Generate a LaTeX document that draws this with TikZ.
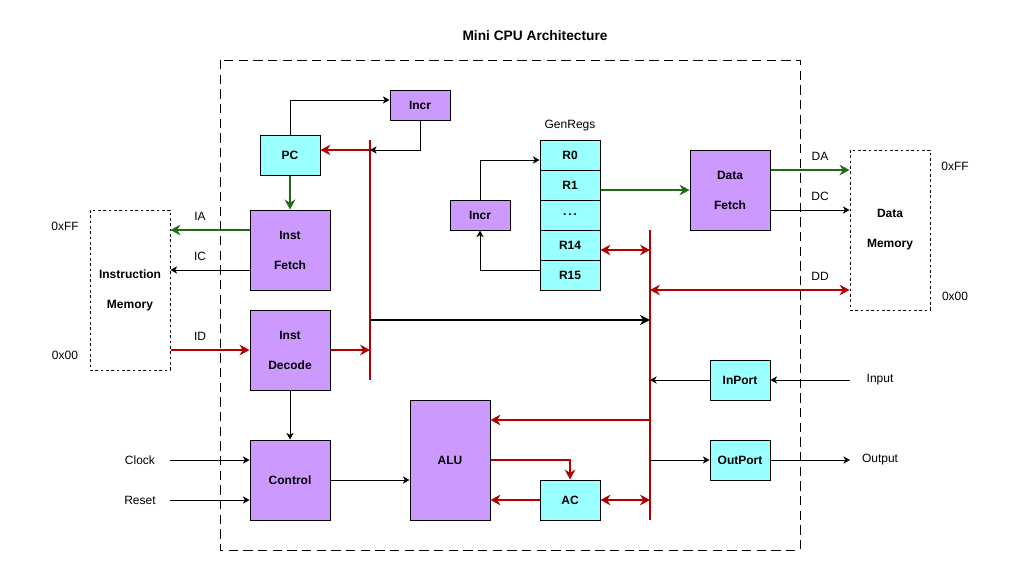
\documentclass[tikz,border=0pt]{standalone}
\usepackage{fontspec}
\setmainfont{Liberation Sans}
\usetikzlibrary{arrows.meta,calc}
\definecolor{cpupurple}{HTML}{CC99FF}
\definecolor{cpucyan}{HTML}{99FFFF}
\definecolor{busred}{HTML}{B20000}
\definecolor{addrgreen}{HTML}{1E6B12}
\tikzset{
  unitb/.style={draw=black, fill=cpupurple, line width=0.75pt, align=center,
    inner sep=0pt, font=\fontsize{9}{22.5}\selectfont\bfseries},
  regb/.style={draw=black, fill=cpucyan, line width=0.75pt, align=center,
    inner sep=0pt, font=\fontsize{9}{22.5}\selectfont\bfseries},
  memb/.style={draw=black, dash pattern=on 2pt off 2pt, line width=0.75pt,
    align=center, inner sep=0pt, font=\fontsize{9}{22.5}\selectfont\bfseries},
  ctl/.style={-{Stealth[length=5pt, width=5.5pt, inset=1.5pt]}, line width=0.75pt},
  ctlbus/.style={-{Stealth[length=7.5pt, width=7.5pt, inset=2.5pt]}, line width=1.3pt},
  dbus/.style={-{Stealth[length=7.5pt, width=8pt, inset=2.5pt]}, line width=1.5pt, draw=busred},
  dbustwo/.style={{Stealth[length=7.5pt, width=8pt, inset=2.5pt]}-{Stealth[length=7.5pt, width=8pt, inset=2.5pt]},
    line width=1.5pt, draw=busred},
  abus/.style={-{Stealth[length=7.5pt, width=8pt, inset=2.5pt]}, line width=1.5pt, draw=addrgreen},
  busline/.style={line width=1.5pt, draw=busred},
  sig/.style={font=\fontsize{9}{11}\selectfont, inner sep=1pt},
  frame/.style={line width=0.75pt, dash pattern=on 7pt off 4pt},
}
\begin{document}
\begin{tikzpicture}[x=0.75pt, y=-0.75pt]
    \useasboundingbox (0,0) rectangle (1020,571);
    % title and outer frame
    \node[font=\fontsize{10.3}{12}\selectfont\bfseries] (title) at (535,36) {Mini CPU Architecture};
    \draw[frame] (220,60) rectangle (800,550);
    % memories
    \node[memb, minimum width=60pt, minimum height=120pt] (im) at (130,290) {Instruction\\Memory};
    \node[memb, minimum width=60pt, minimum height=120pt] (dm) at (890,230) {Data\\Memory};
    \node[sig] (imhi) at (65,226) {0xFF};
    \node[sig] (imlo) at (65,355) {0x00};
    \node[sig] (dmhi) at (955,166) {0xFF};
    \node[sig] (dmlo) at (955,296) {0x00};
    % fetch / decode / control
    \node[unitb, minimum width=45pt, minimum height=22.5pt] (incra) at (420,105) {Incr};
    \node[regb, minimum width=45pt, minimum height=30pt] (pc) at (290,155) {PC};
    \node[unitb, minimum width=60pt, minimum height=60pt] (fetch) at (290,250) {Inst\\Fetch};
    \node[unitb, minimum width=60pt, minimum height=60pt] (dec) at (290,350) {Inst\\Decode};
    \node[unitb, minimum width=60pt, minimum height=60pt] (ctrl) at (290,480) {Control};
    % execute
    \node[unitb, minimum width=60pt, minimum height=90pt] (alu) at (450,460) {ALU};
    \node[regb, minimum width=45pt, minimum height=30pt] (ac) at (570,500) {AC};
    % register file
    \node[sig] (grlab) at (570,126) {GenRegs};
    \foreach \r/\t [count=\i] in {r0/R0, r1/R1, rdots/{.\,.\,.}, r14/R14, r15/R15}
      \node[regb, minimum width=45pt, minimum height=22.5pt] (\r) at (570,125+30*\i) {\t};
    \node[unitb, minimum width=45pt, minimum height=22.5pt] (incrb) at (480,215) {Incr};
    % data side and ports
    \node[unitb, minimum width=60pt, minimum height=60pt] (df) at (730,190) {Data\\Fetch};
    \node[regb, minimum width=45pt, minimum height=30pt] (inport) at (740,380) {InPort};
    \node[regb, minimum width=45pt, minimum height=30pt] (outport) at (740,460) {OutPort};
    % buses
    \coordinate (ibusT) at (370,140);
    \coordinate (ibusB) at (370,380);
    \coordinate (dbusT) at (650,230);
    \coordinate (dbusB) at (650,520);
    \draw[busline] (ibusT) -- (ibusB);
    \draw[busline] (dbusT) -- (dbusB);
    % program counter loop
    \coordinate (pcport) at ([yshift=3.75pt]pc.east);
    \draw[ctl] (pc.north) |- ([yshift=3.75pt]incra.west);
    \draw[ctl] (incra.south) |- (pcport -| ibusT);
    \draw[dbus] (pcport -| ibusT) -- (pcport);
    \draw[abus] (pc.south) -- (fetch.north);
    % instruction memory
    \draw[abus] ([yshift=15pt]fetch.west) coordinate (iaport) -- (iaport -| im.east);
    \draw[ctl] ([yshift=-15pt]fetch.west) coordinate (icport) -- (icport -| im.east);
    \draw[dbus] (im.east |- dec.west) -- (dec.west);
    \node[sig] (ialab) at (200,216) {IA};
    \node[sig] (iclab) at (200,256) {IC};
    \node[sig] (idlab) at (200,336) {ID};
    \draw[dbus] (dec.east) -- (dec.east -| ibusT);
    \draw[ctlbus] (ibusT |- 0,320) -- (dbusT |- 0,320);
    \draw[ctl] (dec.south) -- (ctrl.north);
    % clock and reset
    \coordinate (clkin) at (170,460);
    \coordinate (rstin) at (170,500);
    \node[sig] (clklab) at (140,460) {Clock};
    \node[sig] (rstlab) at (140,500) {Reset};
    \draw[ctl] (clkin) -- (clkin -| ctrl.west);
    \draw[ctl] (rstin) -- (rstin -| ctrl.west);
    \draw[ctl] (ctrl.east) -- (ctrl.east -| alu.west);
    % alu and accumulator
    \draw[dbus] (dbusT |- 0,420) -- (alu.east |- 0,420);
    \draw[dbus] (alu.east) -| (ac.north);
    \draw[dbus] (ac.west) -- (ac.west -| alu.east);
    \draw[dbustwo] (ac.east) -- (ac.east -| dbusT);
    % register file links
    \draw[ctl] ([yshift=3.75pt]r15.west) -| (incrb.south);
    \draw[ctl] (incrb.north) |- ([yshift=-3.75pt]r0.west);
    \draw[dbustwo] ([yshift=-3.75pt]r14.east) coordinate (r14port) -- (r14port -| dbusT);
    \draw[abus] (r1.east |- df.west) -- (df.west);
    % data memory
    \draw[abus] ([yshift=15pt]df.east) coordinate (daport) -- (daport -| dm.west);
    \draw[ctl] ([yshift=-15pt]df.east) coordinate (dcport) -- (dcport -| dm.west);
    \draw[dbustwo] (dbusT |- 0,290) -- ($(dm.west)+(0,60)$);
    \node[sig] (dalab) at (820,156) {DA};
    \node[sig] (dclab) at (820,196) {DC};
    \node[sig] (ddlab) at (820,276) {DD};
    % io ports
    \coordinate (inpin) at (850,380);
    \coordinate (outpin) at (850,460);
    \node[sig] (inlab) at (880,380) {Input};
    \node[sig] (outlab) at (880,460) {Output};
    \draw[ctl] (inpin) -- (inport.east);
    \draw[ctl] (inport.west) -- (inport.west -| dbusT);
    \draw[ctl] (dbusT |- outport.west) -- (outport.west);
    \draw[ctl] (outport.east) -- (outpin);
\end{tikzpicture}
\end{document}
